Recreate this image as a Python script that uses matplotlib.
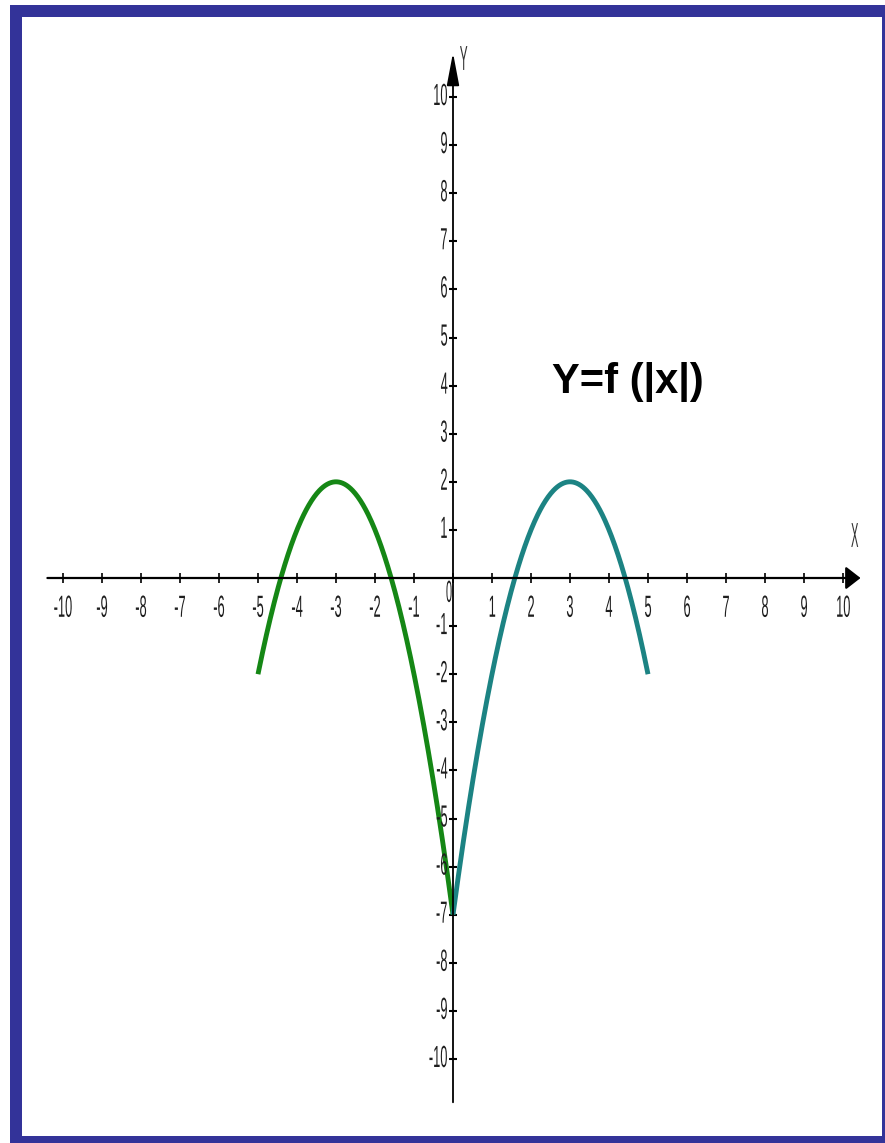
"""Graph of y = f(|x|) for the parabola f(x) = -(x - 3)^2 + 2, drawn on a school-style
coordinate plane with arrowed axes and a framed border."""

import matplotlib.pyplot as plt
from matplotlib.patches import Rectangle
from matplotlib.patheffects import AbstractPathEffect
from matplotlib.transforms import Affine2D
import numpy as np

# ---------------------------------------------------------------------------
# Data
# ---------------------------------------------------------------------------

x_ticks = list(range(-10, 11))
y_ticks = [v for v in range(-10, 11) if v != 0]
x_tick_labels = [str(v) for v in x_ticks]
y_tick_labels = [str(v) for v in y_ticks]

# parabola branch: vertex (3, 2), value -7 at x = 0, domain |x| <= 5
vertex_x = 3.0
vertex_y = 2.0
value_at_zero = -7.0
domain_max = 5.0

title_text = "Y=f (|x|)"

# ---------------------------------------------------------------------------
# Style
# ---------------------------------------------------------------------------

W, H, DPI = 885, 1143, 100
FRAME = "#333399"
LEFT_COLOR = "#158715"
RIGHT_COLOR = "#1c8383"
LABEL_COLOR = "#1e1e1e"
LABEL_FONT = "Liberation Sans"

# pixel geometry of the coordinate plane
X0_PX, Y0_PX = 453.0, 578.0     # origin
UX_PX, UY_PX = 39.0, 48.1       # one unit along x / y


class Narrow(AbstractPathEffect):
    """Squeeze text glyphs horizontally (condensed digits like old graph plotters)."""

    def __init__(self, sx=0.42, anchor="center"):
        super().__init__()
        self.sx = sx
        self.anchor = anchor

    def draw_path(self, renderer, gc, tpath, affine, rgbFace=None):
        bb = tpath.get_extents(affine)
        if self.anchor == "right":
            cx = bb.x1
        elif self.anchor == "left":
            cx = bb.x0
        else:
            cx = 0.5 * (bb.x0 + bb.x1)
        squeeze = Affine2D().translate(-cx, 0).scale(self.sx, 1).translate(cx, 0)
        renderer.draw_path(gc, tpath, affine + squeeze, rgbFace)


fig = plt.figure(figsize=(W / DPI, H / DPI), dpi=DPI)
fig.patch.set_facecolor("white")

# frame: outer blue band, white inner field
fig.add_artist(Rectangle((10 / W, 0), 1 - 10 / W, 1 - 5 / H,
                         transform=fig.transFigure, facecolor=FRAME,
                         edgecolor="none", zorder=0))
fig.add_artist(Rectangle((22 / W, 7 / H), (882 - 22) / W, (1136 - 17) / H,
                         transform=fig.transFigure, facecolor="white",
                         edgecolor="none", zorder=0))

ax = fig.add_axes([0, 0, 1, 1])
ax.set_xlim(-X0_PX / UX_PX, (W - X0_PX) / UX_PX)
ax.set_ylim(-(H - Y0_PX) / UY_PX, Y0_PX / UY_PX)
ax.axis("off")
ax.patch.set_alpha(0)

# ---------------------------------------------------------------------------
# Axes with arrows
# ---------------------------------------------------------------------------

x_axis_start, x_axis_end = -10.4, 10.45
y_axis_start, y_axis_end = -10.9, 10.92

ax.annotate("", xy=(x_axis_end, 0), xytext=(x_axis_start, 0),
            arrowprops=dict(arrowstyle="-|>,head_length=0.9,head_width=0.7",
                            color="black", lw=1.6, shrinkA=0, shrinkB=0,
                            mutation_scale=10))
ax.annotate("", xy=(0, y_axis_end), xytext=(0, y_axis_start),
            arrowprops=dict(arrowstyle="-|>,head_length=2.0,head_width=0.38",
                            color="black", lw=1.3, shrinkA=0, shrinkB=0,
                            mutation_scale=10))

ax.plot(x_ticks, np.zeros(len(x_ticks)), "|", color="black", ms=7, mew=1.2)
ax.plot(np.zeros(len(y_ticks)), y_ticks, "_", color="black", ms=6, mew=1.5)

label_kw = dict(fontsize=22, family=LABEL_FONT, color=LABEL_COLOR)
axis_name_kw = dict(fontsize=25, family=LABEL_FONT, color="#333333")

for v, lab in zip(x_ticks, x_tick_labels):
    if v == 0:
        ax.text(-0.1, -0.33, lab, ha="center", va="center",
                path_effects=[Narrow(0.36)], **label_kw)
    else:
        ax.text(v, -0.64, lab, ha="center", va="center",
                path_effects=[Narrow(0.42)], **label_kw)

for v, lab in zip(y_ticks, y_tick_labels):
    ax.text(-0.12, v, lab, ha="right", va="center",
            path_effects=[Narrow(0.42, "right")], **label_kw)

ax.text(10.3, 0.5, "X", ha="center", va="bottom",
        path_effects=[Narrow(0.32)], **axis_name_kw)
ax.text(0.16, 10.76, "Y", ha="left", va="center",
        path_effects=[Narrow(0.34, "left")], **axis_name_kw)

# ---------------------------------------------------------------------------
# Curve y = f(|x|)
# ---------------------------------------------------------------------------

a = (vertex_y - value_at_zero) / vertex_x ** 2
xs_right = np.linspace(0, domain_max, 300)
ys_right = vertex_y - a * (xs_right - vertex_x) ** 2
ax.plot(-xs_right, ys_right, color=LEFT_COLOR, lw=3.5, solid_capstyle="butt")
ax.plot(xs_right, ys_right, color=RIGHT_COLOR, lw=3.5, solid_capstyle="butt")

ax.text((628 - X0_PX) / UX_PX, (Y0_PX - 382) / UY_PX, title_text,
        ha="center", va="center", fontsize=30, fontweight="bold",
        family=LABEL_FONT, color="black")

fig.savefig("out.png", dpi=DPI)
